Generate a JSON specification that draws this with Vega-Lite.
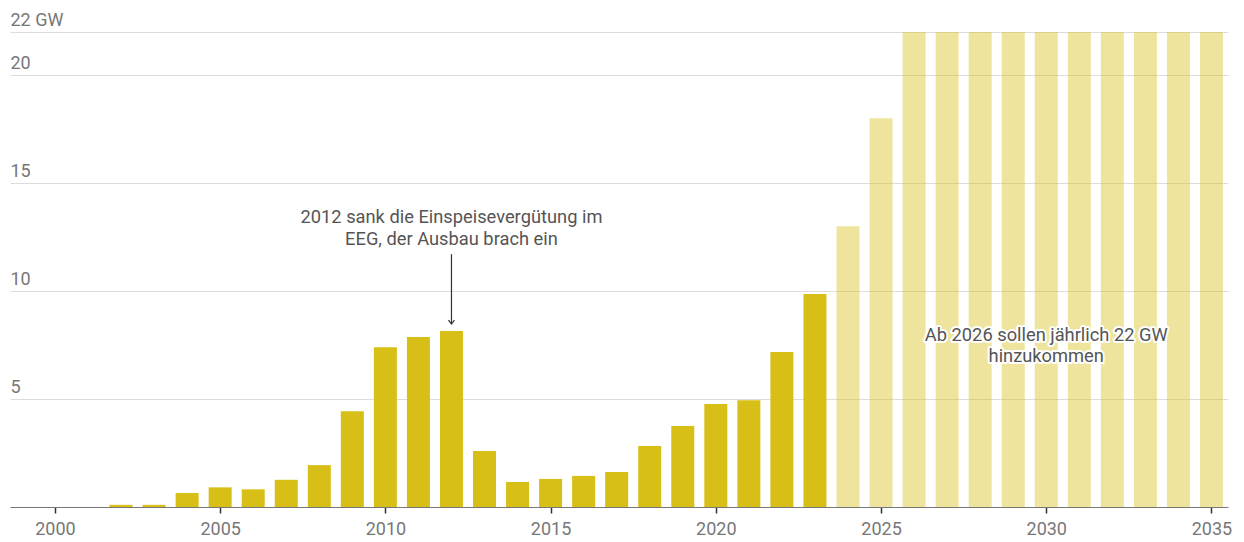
{
  "$schema": "https://vega.github.io/schema/vega-lite/v6.json",
  "width": 1218,
  "height": 475,
  "autosize": "none",
  "padding": {"left": 10, "top": 32, "right": 16, "bottom": 35},
  "background": "white",
  "config": {"view": {"stroke": null}, "font": "Roboto"},
  "datasets": {
    "bars": [
      {"year": 2000, "gw": 0, "type": "Ist"},
      {"year": 2001, "gw": 0, "type": "Ist"},
      {"year": 2002, "gw": 0.1, "type": "Ist"},
      {"year": 2003, "gw": 0.1, "type": "Ist"},
      {"year": 2004, "gw": 0.65, "type": "Ist"},
      {"year": 2005, "gw": 0.91, "type": "Ist"},
      {"year": 2006, "gw": 0.82, "type": "Ist"},
      {"year": 2007, "gw": 1.26, "type": "Ist"},
      {"year": 2008, "gw": 1.94, "type": "Ist"},
      {"year": 2009, "gw": 4.43, "type": "Ist"},
      {"year": 2010, "gw": 7.4, "type": "Ist"},
      {"year": 2011, "gw": 7.87, "type": "Ist"},
      {"year": 2012, "gw": 8.15, "type": "Ist"},
      {"year": 2013, "gw": 2.59, "type": "Ist"},
      {"year": 2014, "gw": 1.16, "type": "Ist"},
      {"year": 2015, "gw": 1.3, "type": "Ist"},
      {"year": 2016, "gw": 1.44, "type": "Ist"},
      {"year": 2017, "gw": 1.62, "type": "Ist"},
      {"year": 2018, "gw": 2.82, "type": "Ist"},
      {"year": 2019, "gw": 3.75, "type": "Ist"},
      {"year": 2020, "gw": 4.77, "type": "Ist"},
      {"year": 2021, "gw": 4.95, "type": "Ist"},
      {"year": 2022, "gw": 7.18, "type": "Ist"},
      {"year": 2023, "gw": 9.86, "type": "Ist"},
      {"year": 2024, "gw": 13, "type": "Ziel"},
      {"year": 2025, "gw": 18, "type": "Ziel"},
      {"year": 2026, "gw": 22, "type": "Ziel"},
      {"year": 2027, "gw": 22, "type": "Ziel"},
      {"year": 2028, "gw": 22, "type": "Ziel"},
      {"year": 2029, "gw": 22, "type": "Ziel"},
      {"year": 2030, "gw": 22, "type": "Ziel"},
      {"year": 2031, "gw": 22, "type": "Ziel"},
      {"year": 2032, "gw": 22, "type": "Ziel"},
      {"year": 2033, "gw": 22, "type": "Ziel"},
      {"year": 2034, "gw": 22, "type": "Ziel"},
      {"year": 2035, "gw": 22, "type": "Ziel"}
    ],
    "notes1": [
      {"year": 2012, "y": 13.15, "text": "2012 sank die Einspeisevergütung im"},
      {"year": 2012, "y": 12.13, "text": "EEG, der Ausbau brach ein"}
    ],
    "notes2": [
      {"year": 2030, "y": 7.69, "text": "Ab 2026 sollen jährlich 22 GW"},
      {"year": 2030, "y": 6.71, "text": "hinzukommen"}
    ],
    "arrow": [
      {"year": 2012, "y1": 11.71, "y2": 8.5}
    ],
    "arrowhead": [
      {"year": 2012, "y": 8.47}
    ]
  },
  "layer": [
    {
      "data": {"name": "bars"},
      "mark": {"type": "bar", "orient": "vertical", "size": 23},
      "encoding": {
        "x": {
          "field": "year", "type": "quantitative",
          "scale": {"domain": [1998.64, 2035.5], "nice": false, "zero": false, "padding": 0},
          "axis": {
            "title": null, "values": [2000, 2005, 2010, 2015, 2020, 2025, 2030, 2035],
            "format": "d", "grid": false,
            "domainColor": "#777", "domainWidth": 1.2,
            "tickColor": "#333", "tickSize": 6, "tickWidth": 1.5,
            "labelColor": "#777", "labelFontSize": 18, "labelPadding": 7,
            "labelFont": "Roboto"
          }
        },
        "y": {
          "field": "gw", "type": "quantitative", "stack": null,
          "scale": {"domain": [0, 22], "nice": false},
          "axis": {
            "title": null, "values": [5, 10, 15, 20, 22],
            "labelExpr": "datum.value == 22 ? '22 GW' : datum.label",
            "grid": true, "gridColor": "#dcdcdc", "gridWidth": 1,
            "domain": false, "ticks": false, "tickSize": 0,
            "labelAlign": "left", "labelBaseline": "alphabetic",
            "labelPadding": 0, "labelOffset": -7,
            "labelColor": "#777", "labelFontSize": 18, "labelFont": "Roboto"
          }
        },
        "color": {
          "field": "type", "type": "nominal",
          "scale": {"domain": ["Ist", "Ziel"], "range": ["#d8bf17", "#d8bf17"]},
          "legend": null
        },
        "opacity": {
          "field": "type", "type": "nominal",
          "scale": {"domain": ["Ist", "Ziel"], "range": [1, 0.42]},
          "legend": null
        }
      }
    },
    {
      "data": {"name": "arrow"},
      "mark": {"type": "rule", "color": "#333", "strokeWidth": 1.2},
      "encoding": {
        "x": {"field": "year", "type": "quantitative"},
        "y": {"field": "y1", "type": "quantitative"},
        "y2": {"field": "y2"}
      }
    },
    {
      "data": {"name": "arrowhead"},
      "mark": {"type": "point", "shape": "M-0.5,-0.65L0,0L0.5,-0.65", "filled": false, "color": "#333", "strokeWidth": 1.2, "size": 144, "opacity": 1},
      "encoding": {
        "x": {"field": "year", "type": "quantitative"},
        "y": {"field": "y", "type": "quantitative"}
      }
    },
    {
      "data": {"name": "notes1"},
      "mark": {"type": "text", "align": "center", "baseline": "alphabetic", "fontSize": 18.3, "color": "#555", "font": "Roboto"},
      "encoding": {
        "x": {"field": "year", "type": "quantitative"},
        "y": {"field": "y", "type": "quantitative"},
        "text": {"field": "text"}
      }
    },
    {
      "data": {"name": "notes2"},
      "mark": {"type": "text", "align": "center", "baseline": "alphabetic", "fontSize": 18.3, "color": "white", "stroke": "white", "strokeWidth": 4, "strokeJoin": "round", "font": "Roboto"},
      "encoding": {
        "x": {"field": "year", "type": "quantitative"},
        "y": {"field": "y", "type": "quantitative"},
        "text": {"field": "text"}
      }
    },
    {
      "data": {"name": "notes2"},
      "mark": {"type": "text", "align": "center", "baseline": "alphabetic", "fontSize": 18.3, "color": "#555", "font": "Roboto"},
      "encoding": {
        "x": {"field": "year", "type": "quantitative"},
        "y": {"field": "y", "type": "quantitative"},
        "text": {"field": "text"}
      }
    }
  ]
}
